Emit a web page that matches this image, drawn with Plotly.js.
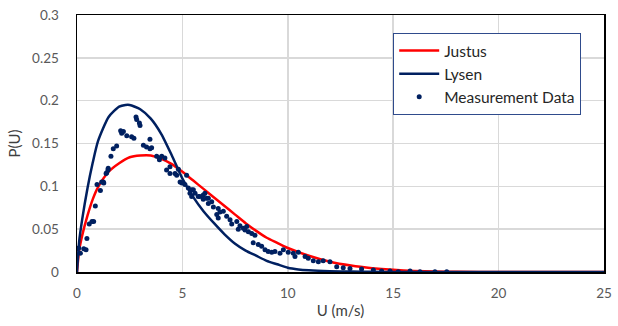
<!DOCTYPE html>
<html>
<head>
<meta charset="utf-8">
<script src="https://cdn.plot.ly/plotly-3.0.1.min.js"></script>
<style>html,body{margin:0;padding:0;background:#fff;}#chart{width:618px;height:326px;}</style>
</head>
<body>
<div id="chart"></div>
<script>
// Justus (red) curve
const justusU = [0,0.1,0.25,0.5,0.75,1,1.5,2,2.5,3,3.5,4,4.5,5,5.5,6,6.5,7,7.5,8,8.5,9,9.5,10,11,12,13,14,15,16,17,18,20,25];
const justusP = [0,0.025,0.043,0.066,0.085,0.099,0.117,0.127,0.134,0.136,0.136,0.132,0.126,0.117,0.107,0.097,0.087,0.077,0.067,0.057,0.048,0.040,0.034,0.028,0.019,0.012,0.0075,0.0045,0.0025,0.0012,0.0005,0.0002,0,0];
// Lysen (navy) curve
const lysenU = [0,0.1,0.25,0.5,0.75,1,1.5,2,2.3,2.5,3,3.5,4,4.5,5,5.5,6,6.5,7,7.5,8,8.5,9,9.5,10,10.5,11,12,13,14,15,25];
const lysenP = [0,0.035,0.062,0.098,0.128,0.153,0.181,0.193,0.195,0.195,0.190,0.179,0.161,0.136,0.109,0.088,0.071,0.057,0.044,0.033,0.025,0.019,0.013,0.009,0.005,0.003,0.002,0.001,0.0005,0.0002,0,0];
// Measurement data (dots)
const measU = [0,0.08,0.16,0.32,0.43,0.47,0.58,0.71,0.79,0.87,0.95,1.11,1.17,1.25,1.27,1.38,1.41,1.47,1.48,1.61,1.72,1.88,2.07,2.12,2.20,2.36,2.59,2.70,2.80,2.83,2.96,2.99,3.15,3.30,3.46,3.46,3.54,3.78,3.91,3.91,4.02,4.17,4.25,4.41,4.41,4.65,4.73,4.81,4.89,4.97,5.12,5.20,5.28,5.36,5.44,5.44,5.52,5.60,5.75,5.83,5.99,5.99,6.07,6.15,6.23,6.23,6.39,6.47,6.63,6.70,6.70,6.78,6.94,7.10,7.26,7.34,7.58,7.65,7.73,7.89,7.97,8.05,8.13,8.29,8.36,8.44,8.60,8.76,8.92,9.07,9.24,9.39,9.63,9.79,10.02,10.26,10.34,10.50,10.82,10.97,11.21,11.45,11.68,12.00,12.32,12.63,12.95,13.50,14.06,14.45,14.85,15.24,15.80,16.27,16.98,17.54];
const measP = [0.027,0.028,0.022,0.027,0.026,0.039,0.056,0.059,0.059,0.077,0.102,0.095,0.105,0.105,0.104,0.115,0.116,0.119,0.121,0.135,0.144,0.147,0.165,0.162,0.164,0.159,0.158,0.156,0.181,0.178,0.174,0.171,0.148,0.146,0.155,0.144,0.145,0.135,0.133,0.131,0.135,0.133,0.119,0.115,0.123,0.115,0.113,0.120,0.105,0.104,0.102,0.113,0.098,0.092,0.096,0.088,0.096,0.092,0.088,0.088,0.090,0.085,0.092,0.086,0.086,0.080,0.082,0.076,0.067,0.074,0.063,0.070,0.071,0.065,0.061,0.056,0.059,0.050,0.054,0.051,0.049,0.053,0.047,0.045,0.034,0.043,0.032,0.030,0.026,0.024,0.023,0.024,0.022,0.026,0.023,0.022,0.018,0.023,0.018,0.016,0.013,0.012,0.013,0.012,0.006,0.005,0.004,0.0035,0.0023,0.0012,0.0012,0.0004,0.0012,0.0004,0.0004,0.0004];

const xTicks = [0,5,10,15,20,25];
const yTicks = [0,0.05,0.1,0.15,0.2,0.25,0.3];
const yTickText = ['0','0.05','0.1','0.15','0.2','0.25','0.3'];

const navy = '#002060';
const fontFam = 'Lato, "Open Sans", sans-serif';

const traces = [
  {x: justusU, y: justusP, type: 'scatter', mode: 'lines', name: 'Justus',
   line: {color: '#ff0000', width: 2.5, shape: 'spline', smoothing: 0.6}},
  {x: lysenU, y: lysenP, type: 'scatter', mode: 'lines', name: 'Lysen',
   line: {color: navy, width: 2.5, shape: 'spline', smoothing: 0.6}},
  {x: measU, y: measP, type: 'scatter', mode: 'markers', name: 'Measurement Data',
   marker: {color: navy, size: 5}}
];

const layout = {
  width: 618, height: 326,
  margin: {l: 77, r: 14, t: 15, b: 54},
  paper_bgcolor: '#fff', plot_bgcolor: '#fff',
  font: {family: fontFam, size: 13.5, color: '#595959'},
  showlegend: true,
  legend: {x: 0.6, y: 0.93, xanchor: 'left', yanchor: 'top',
    bgcolor: '#fff', bordercolor: '#2f4b8c', borderwidth: 1,
    font: {family: fontFam, size: 15.5, color: '#262626'},
    tracegroupgap: 0, itemwidth: 40},
  xaxis: {range: [0, 25], tickvals: xTicks, ticktext: xTicks.map(String),
    showgrid: true, gridcolor: '#d9d9d9', gridwidth: 1.5,
    zeroline: false, showline: true, linecolor: '#000', linewidth: 1.5, mirror: true,
    ticks: '', ticklabelstandoff: 8,
    title: {text: 'U (m/s)', font: {family: fontFam, size: 15, color: '#404040'}, standoff: 6}},
  yaxis: {range: [0, 0.3], tickvals: yTicks, ticktext: yTickText,
    showgrid: true, gridcolor: '#d9d9d9', gridwidth: 1.5,
    zeroline: false, showline: true, linecolor: '#000', linewidth: 1.5, mirror: true,
    ticks: '', ticklabelstandoff: 14,
    title: {text: 'P(U)', font: {family: fontFam, size: 15, color: '#404040'}, standoff: 8}}
};

Plotly.newPlot('chart', traces, layout, {displayModeBar: false, staticPlot: true});
</script>
</body>
</html>
